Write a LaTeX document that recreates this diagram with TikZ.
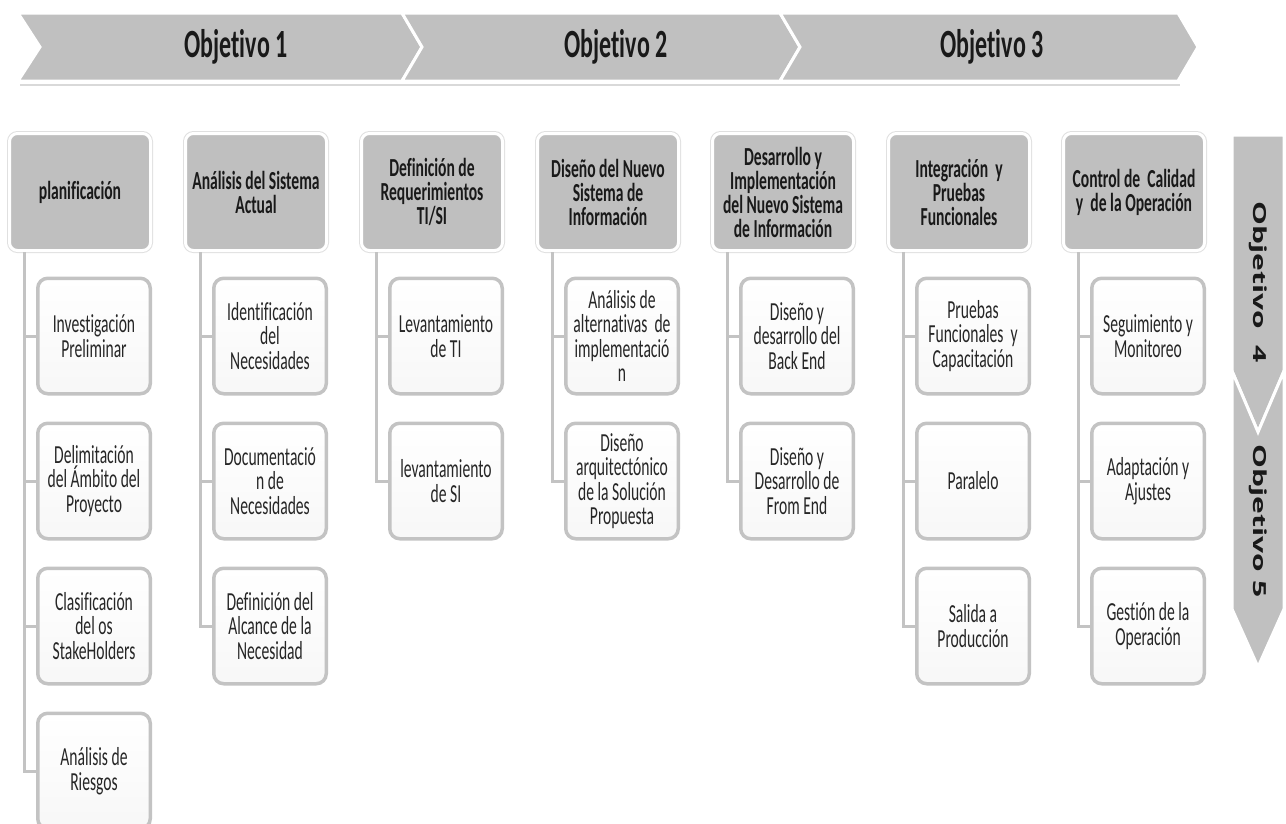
\documentclass[tikz,border=0pt]{standalone}
\usepackage{graphicx}
\usepackage{fontspec}
\setmainfont[FakeStretch=0.6, Ligatures=NoCommon]{Carlito}
\newfontfamily\vfont{Open Sans}
\definecolor{bgray}{HTML}{C0C0C0}
\definecolor{hgray}{HTML}{BFBFBF}
\definecolor{kgray}{HTML}{C3C3C3}
\begin{document}
\begin{tikzpicture}[x=1pt,y=-1pt,
  hdr/.style={rectangle, rounded corners=8pt, fill=hgray, draw=white, line width=3pt,
    preaction={draw=black!12, line width=5pt},
    minimum width=141pt, minimum height=117pt, align=center, inner sep=2pt,
    font=\bfseries\fontsize{26}{24}\selectfont, text=black!90},
  kid/.style={rectangle, rounded corners=10pt, top color=white, bottom color=black!3, draw=kgray, line width=3.5pt,
    minimum width=112.5pt, minimum height=115.5pt, align=center, inner sep=1pt,
    font=\fontsize{26}{24.5}\selectfont, text=black!85},
  conn/.style={draw=kgray, line width=3pt},
  chev/.style={fill=bgray, draw=white, line width=3pt, line join=miter},
  btext/.style={font=\bfseries\fontsize{40}{40}\selectfont, text=black!90},
  vtext/.style={rotate=-90, font=\vfont\bfseries\fontsize{30}{30}\selectfont, text=black!90}
]
\useasboundingbox (0,0) rectangle (1286,823);

% top banner
\draw[black!15, line width=1.5pt] (20,85) -- (1180,85);
\draw[chev] (18,13) -- (402,13) -- (422,47) -- (402,81) -- (18,81) -- (40,47) -- cycle;
\draw[chev] (402,13) -- (780,13) -- (800,47) -- (780,81) -- (402,81) -- (422,47) -- cycle;
\draw[chev] (780,13) -- (1178,13) -- (1198,47) -- (1178,81) -- (780,81) -- (800,47) -- cycle;
\node[btext] (o1) at (236,47) {Objetivo 1};
\node[btext] (o2) at (616,47) {Objetivo 2};
\node[btext] (o3) at (992,47) {Objetivo 3};

% right vertical arrow
\draw[chev] (1232,135) -- (1284,135) -- (1284,371) -- (1258,432) -- (1232,371) -- cycle;
\draw[chev] (1232,371) -- (1258,432) -- (1284,371) -- (1284,609) -- (1258,667) -- (1232,609) -- cycle;
\node[vtext] (o4) at (1258,282) {\scalebox{1}[0.6]{Objetivo~ 4}};
\node[vtext] (o5) at (1258,521) {\scalebox{1}[0.6]{Objetivo 5}};

% column 1
\node[hdr] (h1) at (80,192) {planificación};
\node[kid] (k1a) at (94,336) {Investigación\\Preliminar};
\node[kid] (k1b) at (94,481) {Delimitación\\del Ámbito del\\Proyecto};
\node[kid] (k1c) at (94,626) {Clasificación\\del os\\StakeHolders};
\node[kid] (k1d) at (94,771) {Análisis de\\Riesgos};
\coordinate (l1) at (24,252);
\draw[conn] (l1) |- (k1a.west);
\draw[conn] (l1) |- (k1b.west);
\draw[conn] (l1) |- (k1c.west);
\draw[conn] (l1) |- (k1d.west);

% column 2
\node[hdr] (h2) at (256,192) {Análisis del Sistema\\Actual};
\node[kid] (k2a) at (270,336) {Identificación\\del\\Necesidades};
\node[kid] (k2b) at (270,481) {Documentació\\n de\\Necesidades};
\node[kid] (k2c) at (270,626) {Definición del\\Alcance de la\\Necesidad};
\coordinate (l2) at (200,252);
\draw[conn] (l2) |- (k2a.west);
\draw[conn] (l2) |- (k2b.west);
\draw[conn] (l2) |- (k2c.west);

% column 3
\node[hdr] (h3) at (432,192) {Definición de\\Requerimientos\\TI/SI};
\node[kid] (k3a) at (446,336) {Levantamiento\\de TI};
\node[kid] (k3b) at (446,481) {levantamiento\\de SI};
\coordinate (l3) at (376,252);
\draw[conn] (l3) |- (k3a.west);
\draw[conn] (l3) |- (k3b.west);

% column 4
\node[hdr] (h4) at (608,192) {Diseño del Nuevo\\Sistema de\\Información};
\node[kid] (k4a) at (622,336) {Análisis de\\alternativas~ de\\implementació\\n};
\node[kid] (k4b) at (622,481) {Diseño\\arquitectónico\\de la Solución\\Propuesta};
\coordinate (l4) at (552,252);
\draw[conn] (l4) |- (k4a.west);
\draw[conn] (l4) |- (k4b.west);

% column 5
\node[hdr] (h5) at (783,192) {Desarrollo y\\Implementación\\del Nuevo Sistema\\de Información};
\node[kid] (k5a) at (797,336) {Diseño y\\desarrollo del\\Back End};
\node[kid] (k5b) at (797,481) {Diseño y\\Desarrollo de\\From End};
\coordinate (l5) at (727,252);
\draw[conn] (l5) |- (k5a.west);
\draw[conn] (l5) |- (k5b.west);

% column 6
\node[hdr] (h6) at (959,192) {Integración~ y\\Pruebas\\Funcionales};
\node[kid] (k6a) at (973,336) {Pruebas\\Funcionales~ y\\Capacitación};
\node[kid] (k6b) at (973,481) {Paralelo};
\node[kid] (k6c) at (973,626) {Salida a\\Producción};
\coordinate (l6) at (903,252);
\draw[conn] (l6) |- (k6a.west);
\draw[conn] (l6) |- (k6b.west);
\draw[conn] (l6) |- (k6c.west);

% column 7
\node[hdr] (h7) at (1134,192) {Control de~ Calidad\\y~ de la Operación};
\node[kid] (k7a) at (1148,336) {Seguimiento y\\Monitoreo};
\node[kid] (k7b) at (1148,481) {Adaptación y\\Ajustes};
\node[kid] (k7c) at (1148,626) {Gestión de la\\Operación};
\coordinate (l7) at (1078,252);
\draw[conn] (l7) |- (k7a.west);
\draw[conn] (l7) |- (k7b.west);
\draw[conn] (l7) |- (k7c.west);
\end{tikzpicture}
\end{document}
